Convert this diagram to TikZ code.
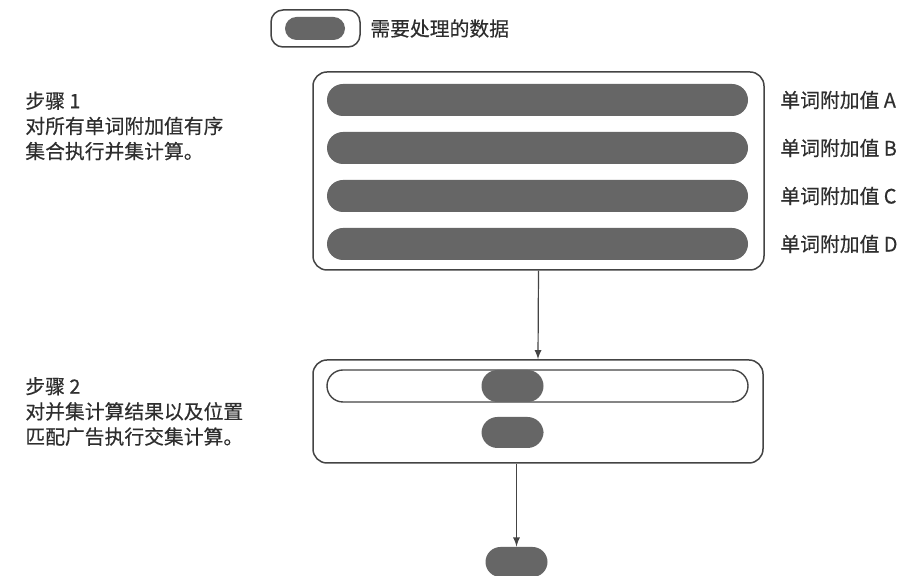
\documentclass[tikz,border=0pt]{standalone}
\usepackage{fontspec}
\newfontfamily\cjk[UprightFeatures={FakeBold=0.35}]{Noto Sans CJK SC}
\usepackage{tikz}
\usetikzlibrary{arrows}
\usetikzlibrary{positioning}
\definecolor{pillgray}{HTML}{666666}
\definecolor{linegray}{HTML}{444444}
\definecolor{textgray}{HTML}{2E2E2E}
\tikzstyle{datapill}=[fill=pillgray,draw=none,rounded corners=8pt,minimum height=16pt,inner sep=0pt]
\tikzstyle{emptypill}=[fill=white,draw=linegray,line width=0.7pt,rounded corners=8pt,minimum height=16pt,inner sep=0pt]
\tikzstyle{frame}=[draw=linegray,line width=0.75pt,rounded corners=7pt,inner sep=0pt]
\tikzstyle{lbl}=[font=\cjk\fontsize{9.9pt}{12.6pt}\selectfont,text=textgray,anchor=west,inner sep=0pt,align=left]
\tikzstyle{flow}=[draw=linegray,line width=0.6pt,-latex]

\begin{document}
\begin{tikzpicture}[x=0.5pt,y=-0.5pt]
	\clip (0,0) rectangle (912,576);
	\fill[white] (0,0) rectangle (912,576);
	% legend
	\node[frame,rounded corners=6pt,minimum width=44.5pt,minimum height=18.5pt] (key) at (315.5,28.5) {};
	\node[datapill,rounded corners=5.75pt,minimum width=30pt,minimum height=11.5pt] (keypill) at (315,28.5) {};
	\node[lbl] (keytext) at (370,28.5) {需要处理的数据};
	% step 1
	\node[frame,minimum width=225.5pt,minimum height=99pt] (box1) at (538.5,171) {};
	\foreach \i/\y/\l in {1/100/A,2/148/B,3/196/C,4/244/D}
	{
		\node[datapill,minimum width=210.5pt] at (537.5,\y)(w\i){};
		\node[lbl] at (780,\y)(v\i){单词附加值 \l};
	}
	\node[lbl] (step1) at (25,126) {步骤 1\\对所有单词附加值有序\\集合执行并集计算。};
	% step 2
	\node[frame,minimum width=225pt,minimum height=51.5pt] (box2) at (538,411.5) {};
	\node[emptypill,minimum width=210.5pt] (union) at (537.5,386) {};
	\node[datapill,minimum width=31pt] (hit1) at (512.5,386) {};
	\node[datapill,minimum width=31pt,minimum height=15.5pt] (hit2) at (512.5,432.5) {};
	\node[lbl] (step2) at (25,411.5) {步骤 2\\对并集计算结果以及位置\\匹配广告执行交集计算。};
	% result
	\node[datapill,minimum width=31pt,minimum height=15pt,rounded corners=7.5pt] (last) at (516.5,562) {};
	\draw[flow] (box1.south) -- (box2.north);
	\draw[flow] (last.north |- box2.south) -- (last.north);
\end{tikzpicture}
\end{document}
